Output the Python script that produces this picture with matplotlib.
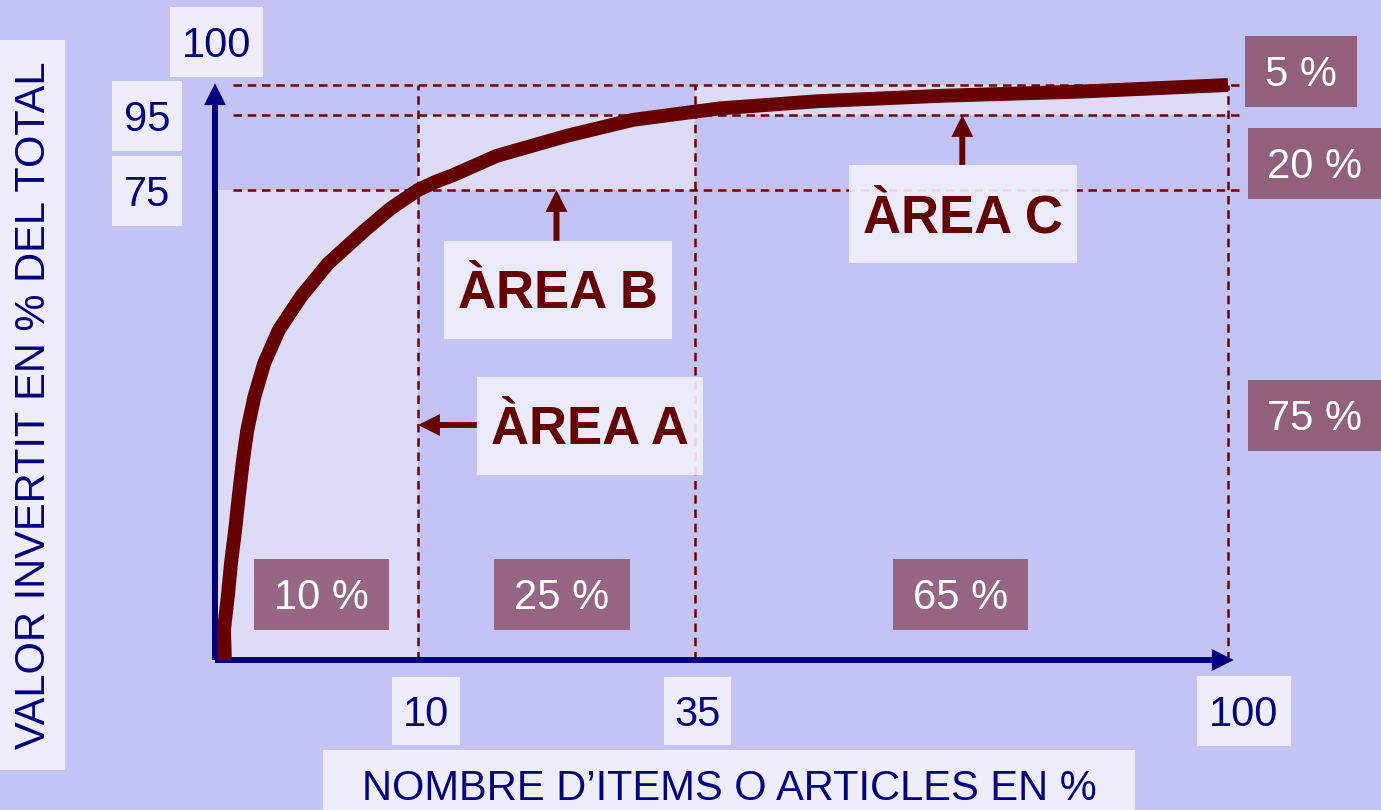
import matplotlib.pyplot as plt
import numpy as np
from matplotlib.patches import Rectangle

plt.rcParams['font.family'] = ['Liberation Sans', 'DejaVu Sans']

# Pareto / ABC curve: % of items vs % of value invested
ITEMS_PCT = [0.49, 0.44, 0.63, 0.79, 0.99, 1.17, 1.36, 1.59, 1.94, 2.43, 3.15,
             4.24, 5.58, 7.39, 8.67, 10, 11.6, 13.2, 17.1, 23.5, 29.4, 38, 50,
             65, 82, 100]
VALUE_PCT = [0, 4.8, 10.1, 15.5, 20.7, 26.1, 31.4, 36.7, 42.0, 47.4, 52.7,
             58.0, 63.3, 68.6, 72.1, 75, 77.2, 79, 84.1, 89.5, 93.7, 96.1, 97.3,
             98.2, 98.9, 100]

# class limits (A, B, C)
X_LIMITS = [10, 35, 100]
Y_LIMITS = [75, 95, 100]
X_TICK_LABELS = ['10', '35', '100']
Y_TICK_LABELS = ['75', '95', '100']
ITEM_SHARES = ['10 %', '25 %', '65 %']
VALUE_SHARES = ['75 %', '20 %', '5 %']
AREA_NAMES = ['ÀREA A', 'ÀREA B', 'ÀREA C']

# the axes are schematic: each class gets its own stretch
X_BREAKS = [-100, 0, 10, 35, 100, 200]
X_SPAN = [-2030, 0, 203, 480, 1013, 1833]
Y_BREAKS = [-100, 0, 75, 95, 100, 200]
Y_SPAN = [-627, 0, 470, 545, 575, 1175]

BG = '#c3c3f5'
SHADE = '#dcdcf8'
PALE = '#ededfb'
MAUVE = '#93607c'
NAVY = '#000080'
DARKRED = '#660000'
DASH = '#700000'

W, H = 1381, 810
fig = plt.figure(figsize=(W / 100, H / 100), dpi=100, facecolor=BG)
ax = fig.add_axes([215 / W, 1 - 660 / H, (1228 - 215) / W, (660 - 85) / H])
ax.set_xscale('function', functions=(lambda v: np.interp(v, X_BREAKS, X_SPAN),
                                     lambda v: np.interp(v, X_SPAN, X_BREAKS)))
ax.set_yscale('function', functions=(lambda v: np.interp(v, Y_BREAKS, Y_SPAN),
                                     lambda v: np.interp(v, Y_SPAN, Y_BREAKS)))
ax.set_xlim(0, 100)
ax.set_ylim(0, 100)
ax.set_axis_off()

# lighter zones for each class
x_lo = [0] + X_LIMITS[:-1]
y_lo = [0] + Y_LIMITS[:-1]
for x0, x1, y0, y1 in zip(x_lo, X_LIMITS, y_lo, Y_LIMITS):
    ax.add_patch(Rectangle((x0, y0), x1 - x0, y1 - y0, fc=SHADE, ec='none', zorder=1))

# dashed guide lines
for y in Y_LIMITS:
    ax.plot([0.9, 101.5], [y, y], color=DASH, lw=1.8, dashes=(3.4, 2.3),
            clip_on=False, zorder=2)
for x in X_LIMITS:
    ax.plot([x, x], [0, 100], color=DASH, lw=1.8, dashes=(3.4, 2.3),
            clip_on=False, zorder=2)

# axes arrows
arrow_kw = dict(arrowstyle='-|>', lw=4.3, color=NAVY, mutation_scale=22,
                shrinkA=0, shrinkB=0, joinstyle='miter', capstyle='butt')
ax.annotate('', xy=(100.7, 0), xytext=(0, 0), arrowprops=arrow_kw,
            annotation_clip=False, zorder=3)
ax.annotate('', xy=(0, 100.3), xytext=(0, 0), arrowprops=arrow_kw,
            annotation_clip=False, zorder=3)

# the curve
ax.plot(ITEMS_PCT, VALUE_PCT, color=DARKRED, lw=10, solid_capstyle='butt',
        solid_joinstyle='round', clip_on=False, zorder=4)

# arrows from the area labels
red_kw = dict(arrowstyle='-|>', lw=4.3, color=DARKRED, mutation_scale=22,
              shrinkA=0, shrinkB=0, joinstyle='miter', capstyle='butt')
ax.annotate('', xy=(X_LIMITS[0], 37.5), xytext=(15.3, 37.5), arrowprops=red_kw,
            annotation_clip=False, zorder=3)
ax.annotate('', xy=(22.5, Y_LIMITS[0]), xytext=(22.5, 66.9), arrowprops=red_kw,
            annotation_clip=False, zorder=3)
ax.annotate('', xy=(67.6, Y_LIMITS[1]), xytext=(67.6, 81.7), arrowprops=red_kw,
            annotation_clip=False, zorder=3)


def boxed_text(x0, y0, x1, y1, text, fc, color, size=30, weight='normal',
               rotation=0, alpha=1.0):
    """box given in pixels from the top-left corner, text centred in it"""
    fig.add_artist(Rectangle((x0 / W, 1 - y1 / H), (x1 - x0) / W, (y1 - y0) / H,
                             transform=fig.transFigure, fc=fc, ec='none',
                             alpha=alpha, zorder=5))
    cap = 0.7 * size * 100 / 72
    cx, cy = (x0 + x1) / 2, (y0 + y1) / 2
    if rotation:
        cx += cap / 2
    else:
        cy += cap / 2
    fig.text(cx / W, 1 - cy / H, text, ha='center', va='baseline',
             rotation=rotation, rotation_mode='anchor', color=color,
             fontsize=size, fontweight=weight, zorder=6)


# axis titles
boxed_text(-5, 40, 65, 770, 'VALOR INVERTIT EN % DEL TOTAL', PALE, NAVY, rotation=90)
boxed_text(323, 750, 1135, 820, 'NOMBRE D\u2019ITEMS O ARTICLES EN %', PALE, NAVY)

# tick labels
x_boxes = [(392, 677, 460, 745), (664, 677, 731, 745), (1197, 676, 1291, 746)]
for (x0, y0, x1, y1), lab in zip(x_boxes, X_TICK_LABELS):
    boxed_text(x0, y0, x1, y1, lab, PALE, NAVY)
y_boxes = [(112, 156, 182, 226), (112, 81, 182, 151), (170, 7, 263, 77)]
for (x0, y0, x1, y1), lab in zip(y_boxes, Y_TICK_LABELS):
    boxed_text(x0, y0, x1, y1, lab, PALE, NAVY)

# share boxes
share_x = [(254, 559, 389, 630), (494, 559, 630, 630), (893, 559, 1028, 630)]
for (x0, y0, x1, y1), lab in zip(share_x, ITEM_SHARES):
    boxed_text(x0, y0, x1, y1, lab, MAUVE, 'white', alpha=0.95)
share_y = [(1248, 380, 1381, 451), (1248, 128, 1381, 199), (1245, 36, 1357, 107)]
for (x0, y0, x1, y1), lab in zip(share_y, VALUE_SHARES):
    boxed_text(x0, y0, x1, y1, lab, MAUVE, 'white')

# area labels
area_boxes = [(477, 377, 703, 475), (444, 241, 672, 339), (849, 165, 1077, 263)]
for (x0, y0, x1, y1), lab in zip(area_boxes, AREA_NAMES):
    boxed_text(x0, y0, x1, y1, lab, '#f0f0fc', DARKRED, size=38,
               weight='bold', alpha=0.9)

fig.savefig('out.png', dpi=100, facecolor=BG)
